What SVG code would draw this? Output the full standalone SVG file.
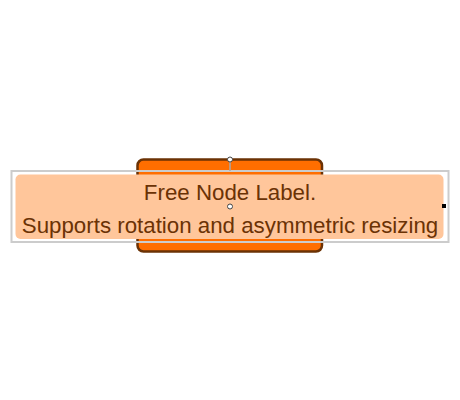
<svg xmlns="http://www.w3.org/2000/svg" width="460" height="400" viewBox="0 0 460 400">
  <style>
    .lbl { font-family: "Liberation Sans", Arial, sans-serif; font-size: 22.3px; fill: #6b3205; text-anchor: middle; }
  </style>
  <rect width="460" height="400" fill="#ffffff"/>
  <g id="node">
    <rect x="137.5" y="159.5" width="184.5" height="92" rx="6" fill="#ff6e00" stroke="#6b3205" stroke-width="2.5"/>
  </g>
  <g id="label">
    <rect x="11.5" y="171" width="437" height="71" fill="none" stroke="#cccccc" stroke-width="2"/>
    <rect x="15.5" y="174.5" width="428" height="64.5" rx="5" fill="#ffc69b"/>
    <text class="lbl" x="230" y="200">Free Node Label.</text>
    <text class="lbl" x="230" y="233">Supports rotation and asymmetric resizing</text>
  </g>
  <g id="handles">
    <line x1="230" y1="162" x2="230" y2="171" stroke="#aaaaaa" stroke-width="1.5"/>
    <circle cx="230" cy="159.5" r="2.5" fill="#ffffff" stroke="#444444" stroke-width="1"/>
    <circle cx="230" cy="206.5" r="2.5" fill="#ffffff" stroke="#444444" stroke-width="1"/>
    <rect x="442" y="204" width="4" height="4" fill="#000000"/>
  </g>
</svg>
